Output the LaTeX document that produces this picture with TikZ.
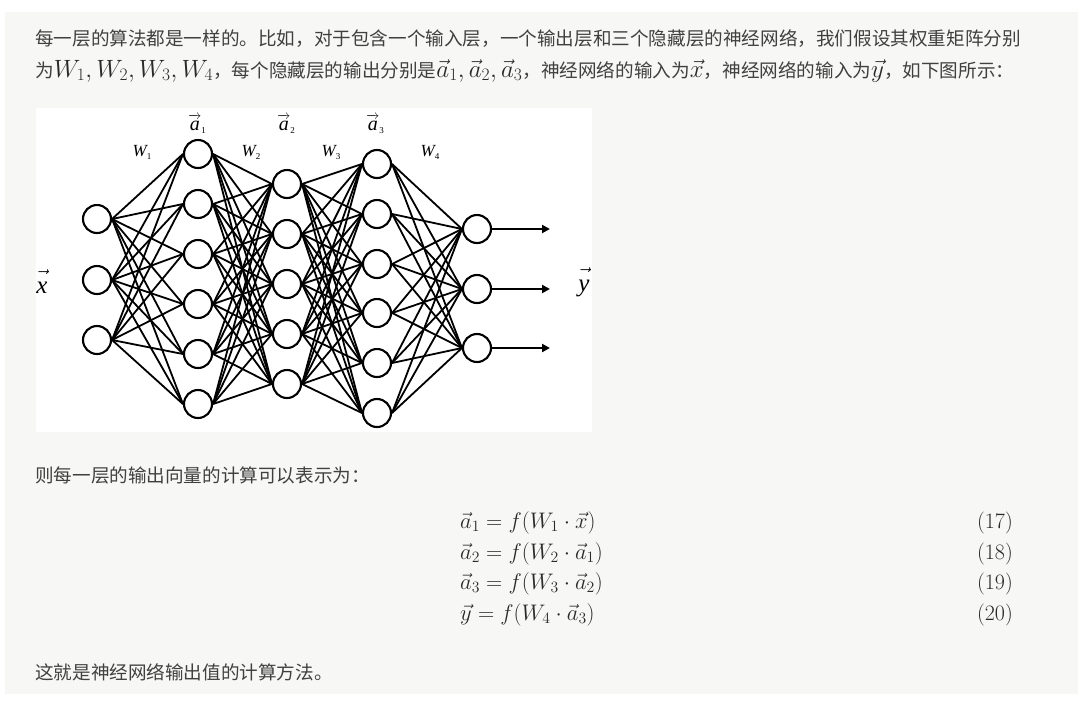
\RequirePackage{fix-cm}
\documentclass[tikz,border=0pt]{standalone}
\usepackage{fontspec}
\newfontfamily\cjk{Noto Sans CJK SC}
\newfontfamily\tms{Liberation Serif}
\usetikzlibrary{arrows.meta}
\definecolor{panel}{HTML}{F7F7F5}
\definecolor{txt}{HTML}{404040}
\definecolor{mth}{HTML}{2A2A2A}
\newcommand{\km}[1]{{\color{mth}\fontsize{25}{25}\selectfont$#1$}}
\newcommand{\subn}[1]{\raisebox{-3.5pt}{\upshape\fontsize{9}{9}\selectfont #1}}
\newcommand{\alab}[2]{{\fontsize{13}{13}\selectfont$\overrightarrow{\mbox{\fontsize{20}{20}\selectfont\raisebox{0pt}[11.5pt][0pt]{#1}}}$}\subn{#2}}
\newcommand{\vlab}[1]{$\vec{\mbox{\raisebox{0pt}[16pt][0pt]{#1}}}$}
\newcommand{\wlab}[1]{W\subn{#1}}
\begin{document}
\begin{tikzpicture}[x=1pt,y=-1pt,
  para/.style={anchor=base west, inner sep=0pt, text=txt, font=\cjk\fontsize{18.6}{22}\selectfont},
  eqn/.style={anchor=base west, inner sep=0pt, text=mth, font=\fontsize{22.5}{24}\selectfont},
  eqno/.style={anchor=base east, inner sep=0pt, text=mth, font=\fontsize{22}{24}\selectfont},
  neuron/.style={circle, draw=black, line width=2.1pt, minimum size=28pt, inner sep=0pt, fill=white},
  edge/.style={line width=1.8pt, black},
  outarrow/.style={line width=2pt, -{Triangle[length=8pt,width=8pt]}},
  wlbl/.style={anchor=base, inner sep=0pt, font=\tms\itshape\fontsize{17}{17}\selectfont},
  albl/.style={anchor=base, inner sep=0pt, font=\tms\itshape\fontsize{20}{20}\selectfont},
  xlbl/.style={anchor=base, inner sep=0pt, font=\tms\itshape\fontsize{25}{25}\selectfont}]
\useasboundingbox (0,0) rectangle (1080,724);
\fill[white] (0,0) rectangle (1080,724);
\fill[panel] (5,12) rectangle (1078,694);
\fill[white] (36,108) rectangle (592,432);

% text
\node[para] (t1) at (35,45) {每一层的算法都是一样的。比如，对于包含一个输入层，一个输出层和三个隐藏层的神经网络，我们假设其权重矩阵分别};
\node[para] (t2) at (35,77) {为\km{W_1, W_2, W_3, W_4}，每个隐藏层的输出分别是\km{\vec a_1, \vec a_2, \vec a_3}，神经网络的输入为\km{\vec x}，神经网络的输入为\km{\vec y}，如下图所示：};
\node[para] (t3) at (35,482) {则每一层的输出向量的计算可以表示为：};
\node[para] (t4) at (35,679) {这就是神经网络输出值的计算方法。};

% equations
\node[eqn] (e1) at (460,528) {$\vec a_1 = f(W_1 \cdot \vec x)$};
\node[eqn] (e2) at (460,559) {$\vec a_2 = f(W_2 \cdot \vec a_1)$};
\node[eqn] (e3) at (460,589) {$\vec a_3 = f(W_3 \cdot \vec a_2)$};
\node[eqn] (e4) at (460,620) {$\vec y = f(W_4 \cdot \vec a_3)$};
\node[eqno] (n1) at (1013,528) {(17)};
\node[eqno] (n2) at (1013,559) {(18)};
\node[eqno] (n3) at (1013,589) {(19)};
\node[eqno] (n4) at (1013,620) {(20)};

% network
\foreach \y [count=\i] in {219,280,340} \node[neuron] (A\i) at (97,\y) {};
\foreach \y [count=\i] in {154,204,254,304,354,404} \node[neuron] (B\i) at (198,\y) {};
\foreach \y [count=\i] in {184,234,284,334,384} \node[neuron] (C\i) at (287,\y) {};
\foreach \y [count=\i] in {164,214,264,313,363,413} \node[neuron] (D\i) at (377,\y) {};
\foreach \y [count=\i] in {229,289,348} \node[neuron] (E\i) at (477,\y) {};

\foreach \i in {1,...,3} \foreach \j in {1,...,6} \draw[edge] (A\i.east) -- (B\j.west);
\foreach \i in {1,...,6} \foreach \j in {1,...,5} \draw[edge] (B\i.east) -- (C\j.west);
\foreach \i in {1,...,5} \foreach \j in {1,...,6} \draw[edge] (C\i.east) -- (D\j.west);
\foreach \i in {1,...,6} \foreach \j in {1,...,3} \draw[edge] (D\i.east) -- (E\j.west);

\foreach \y [count=\i] in {229,289,348} {
  \coordinate (o\i) at (550,\y);
  \draw[outarrow] (E\i.east) -- (o\i);
}

% labels
\node[albl] (la1) at (197,130) {\alab{a}{1}};
\node[albl] (la2) at (286,130) {\alab{a}{2}};
\node[albl] (la3) at (375,130) {\alab{a}{3}};
\node[wlbl] (lw1) at (142,156) {\wlab{1}};
\node[wlbl] (lw2) at (251,156) {\wlab{2}};
\node[wlbl] (lw3) at (331,156) {\wlab{3}};
\node[wlbl] (lw4) at (430,156) {\wlab{4}};
\node[xlbl] (lx) at (42,293) {\vlab{x}};
\node[xlbl] (ly) at (584,291) {\vlab{y}};
\end{tikzpicture}
\end{document}
